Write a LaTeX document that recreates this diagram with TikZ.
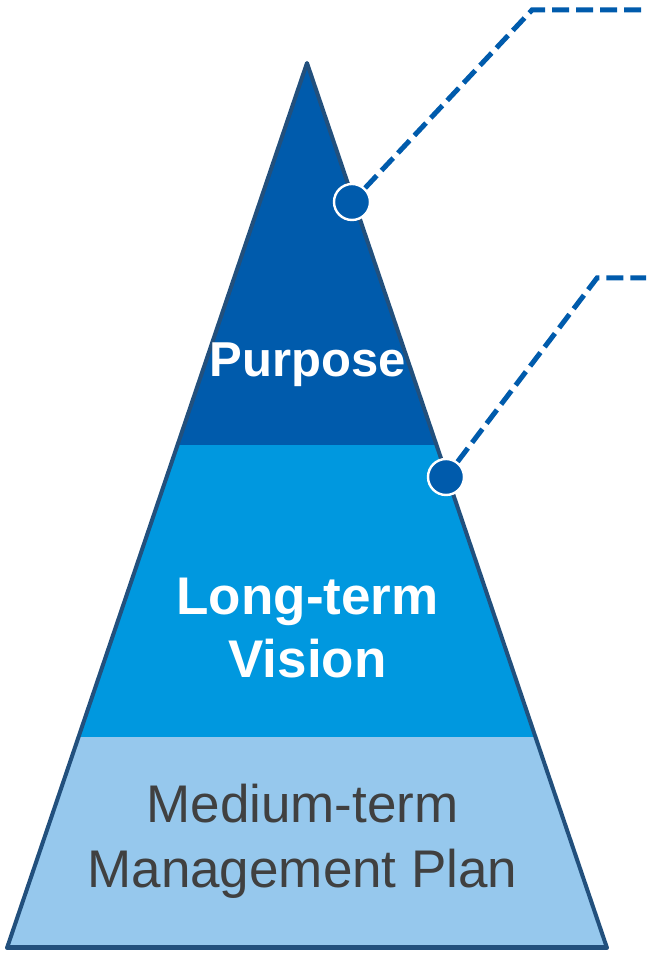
\documentclass[tikz,border=0pt]{standalone}
\usepackage{fontspec}
\setmainfont{Liberation Sans}

\definecolor{deepblue}{HTML}{005BAC}
\definecolor{midblue}{HTML}{0098DF}
\definecolor{paleblue}{HTML}{96C8ED}
\definecolor{rim}{HTML}{22507D}
\definecolor{ink}{HTML}{404040}

\begin{document}
\begin{tikzpicture}[x=1pt,y=1pt,
  edge/.style={draw=rim,line width=4pt,line join=round},
  leader/.style={draw=deepblue,line width=5pt,dash pattern=on 17pt off 7pt},
  linkdot/.style={circle,fill=deepblue,draw=white,line width=2.4pt,minimum size=36pt,inner sep=0pt},
  tiertext/.style={text=white,font=\bfseries\fontsize{53}{63}\selectfont,align=center,anchor=base},
  basetext/.style={text=ink,font=\fontsize{53}{65}\selectfont,align=center,anchor=base}
]

\useasboundingbox (0,0) rectangle (646,953);

\coordinate (top) at (307,890);
\coordinate (bl) at (7,5);
\coordinate (br) at (607,5);

\begin{scope}
\clip (top) -- (bl) -- (br) -- cycle;
\fill[deepblue] (0,508) rectangle (646,953);
\fill[midblue] (0,216) rectangle (646,508);
\fill[paleblue] (0,0) rectangle (646,216);
\end{scope}

\draw[edge] (top) -- (bl) -- (br) -- cycle;
\draw[edge,line width=5pt] (bl) -- (br);

% base anchor sits on the last line
\node[tiertext,font=\bfseries\fontsize{49}{58}\selectfont] (purpose) at (307.5,576) {Purpose};
\node[tiertext] (vision) at (307.5,275) {Long-term\\Vision};
\node[basetext] (plan) at (302.5,65) {Medium-term\\Management Plan};

\node[linkdot] (d1) at (352,751) {};
\node[linkdot] (d2) at (446,476) {};

\coordinate (k1) at (532,943);
\coordinate (e1) at (646,943);
\coordinate (k2) at (597,675);
\coordinate (e2) at (646,675);

\draw[leader] (d1) -- (k1) -- (e1);
\draw[leader] (d2) -- (k2) -- (e2);

\end{tikzpicture}
\end{document}
